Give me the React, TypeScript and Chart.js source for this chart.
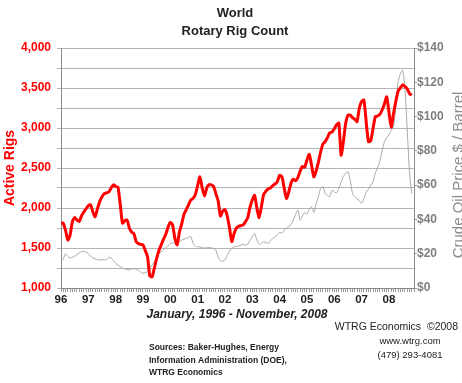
import React, { useEffect, useRef } from "react";
import { Chart, registerables } from "chart.js";

Chart.register(...registerables);

// Monthly data, January 1996 - November 2008
const rigCount: number[] = [
  1810, 1810, 1720, 1600, 1660, 1830, 1880, 1850, 1830, 1900, 1950, 1990, // 1996
  2030, 2040, 1950, 1890, 1990, 2080, 2140, 2180, 2190, 2200, 2250, 2290, // 1997
  2270, 2260, 2050, 1810, 1840, 1850, 1750, 1700, 1680, 1580, 1555, 1545, // 1998
  1540, 1470, 1390, 1150, 1140, 1250, 1370, 1470, 1540, 1610, 1670, 1760, // 1999
  1820, 1790, 1620, 1540, 1700, 1800, 1920, 1980, 2040, 2100, 2120, 2170, // 2000
  2280, 2390, 2250, 2150, 2250, 2290, 2290, 2270, 2180, 2090, 1900, 1960, // 2001
  1980, 1900, 1750, 1580, 1680, 1750, 1770, 1780, 1790, 1830, 1880, 2010, // 2002
  2100, 2160, 2000, 1880, 2020, 2170, 2210, 2240, 2250, 2280, 2300, 2330, // 2003
  2410, 2390, 2250, 2120, 2200, 2310, 2360, 2340, 2380, 2460, 2520, 2510, // 2004
  2600, 2670, 2540, 2390, 2460, 2570, 2700, 2800, 2830, 2880, 2940, 2950, // 2005
  2990, 3040, 3060, 2660, 2830, 3060, 3160, 3160, 3130, 3110, 3080, 3250, // 2006
  3330, 3350, 3080, 2830, 2840, 2990, 3140, 3150, 3170, 3225, 3300, 3390, // 2007
  3200, 3010, 3180, 3330, 3460, 3500, 3540, 3520, 3490, 3430, 3410,       // 2008
];

const oilPrice: number[] = [
  15.5, 17, 20, 18.5, 17.5, 18, 18.5, 19.5, 20.5, 21.2, 21.5, 21, // 1996
  20, 18.5, 17.5, 17, 16.5, 16.3, 16.5, 16.5, 16.5, 18, 17.5, 16, // 1997
  14.5, 13.5, 12.5, 11.5, 11.2, 10.8, 10.5, 11, 11.3, 11, 10.3, 9.3, // 1998
  8.6, 9, 9.5, 11.5, 13.5, 15.5, 17.5, 20, 21, 22.5, 23.5, 24.5, // 1999
  26, 26.5, 26, 26, 27, 28, 28.5, 29, 29.5, 30, 26, 24.5, // 2000
  24, 24, 23.5, 23.3, 23.5, 23.5, 23.5, 23, 22.2, 18, 16, 15.5, // 2001
  16.5, 19, 21.5, 23, 24, 24.3, 24.5, 25, 25.5, 25, 25.5, 28, // 2002
  30, 31.9, 28, 25.5, 26, 27, 26.5, 26, 27.5, 29, 30, 31, // 2003
  32.5, 32, 33.5, 35, 35.8, 37, 39.5, 43, 45.5, 39.7, 42, 44, // 2004
  43, 46, 47.4, 44, 49, 53.3, 58, 59.1, 55, 54, 53.3, 57, // 2005
  56, 55.5, 58, 62, 65, 67, 67.8, 63, 55, 53.3, 52, 51, // 2006
  49.4, 52, 56, 57.6, 60, 62, 67, 70, 74, 80, 85.3, 87.5, // 2007
  89.3, 92, 94, 105, 120, 125, 127, 117, 93, 68, 55, // 2008
];

const yearLabels: string[] = ["96", "97", "98", "99", "00", "01", "02", "03", "04", "05", "06", "07", "08"];

const FONT = "'Liberation Sans', Arial, Helvetica, sans-serif";

const textPlugin = {
  id: "textPlugin",
  afterDraw(chart: any) {
    const ctx = chart.ctx as CanvasRenderingContext2D;
    ctx.save();
    ctx.textAlign = "center";
    ctx.textBaseline = "middle";
    ctx.fillStyle = "#222222";
    ctx.font = `bold 13px ${FONT}`;
    ctx.fillText("World", 235, 13);
    ctx.fillText("Rotary Rig Count", 235, 31);

    // axis titles
    ctx.save();
    ctx.translate(10, 168);
    ctx.rotate(-Math.PI / 2);
    ctx.fillStyle = "#ff0000";
    ctx.font = `bold 14px ${FONT}`;
    ctx.fillText("Active Rigs", 0, 0);
    ctx.restore();

    ctx.save();
    ctx.translate(459, 175);
    ctx.rotate(-Math.PI / 2);
    ctx.fillStyle = "#8c8c8c";
    ctx.font = `15px ${FONT}`;
    ctx.fillText("Crude Oil Price $ / Barrel", 0, 0);
    ctx.restore();

    ctx.fillStyle = "#222222";
    ctx.font = `italic bold 12px ${FONT}`;
    ctx.fillText("January, 1996 - November, 2008", 237, 315);

    ctx.font = `10.5px ${FONT}`;
    ctx.textAlign = "right";
    ctx.fillText("WTRG Economics  \u00a92008", 458, 327);
    ctx.textAlign = "center";
    ctx.font = `9.5px ${FONT}`;
    ctx.fillText("www.wtrg.com", 410, 341);
    ctx.fillText("(479) 293-4081", 410, 355);

    ctx.textAlign = "left";
    ctx.font = `bold 8.5px ${FONT}`;
    ctx.fillText("Sources: Baker-Hughes, Energy", 149, 348);
    ctx.fillText("Information Administration (DOE),", 149, 361);
    ctx.fillText("WTRG Economics", 149, 373);
    ctx.restore();
  },
};

export default function App() {
  const ref = useRef<HTMLCanvasElement | null>(null);

  useEffect(() => {
    if (!ref.current) return;
    const chart = new Chart(ref.current, {
      type: "line",
      data: {
        datasets: [
          {
            label: "Active Rigs",
            data: rigCount.map((v, i) => ({ x: i, y: v })),
            borderColor: "#ff0000",
            borderWidth: 3,
            pointRadius: 0,
            tension: 0.2,
            yAxisID: "y",
          },
          {
            label: "Crude Oil Price",
            data: oilPrice.map((v, i) => ({ x: i, y: v })),
            borderColor: "#a8a8a8",
            borderWidth: 1,
            pointRadius: 0,
            tension: 0.2,
            yAxisID: "y1",
          },
        ],
      },
      options: {
        responsive: false,
        animation: false,
        layout: { padding: { top: 48, bottom: 75, left: 0, right: 0 } },
        plugins: { legend: { display: false }, title: { display: false }, tooltip: { enabled: false } },
        scales: {
          x: {
            type: "linear",
            min: 0,
            max: 155,
            position: "bottom",
            grid: { drawOnChartArea: false, drawTicks: true, tickLength: 4, color: "#9a9a9a" },
            border: { color: "#8a8a8a" },
            ticks: {
              stepSize: 1,
              autoSkip: false,
              maxRotation: 0,
              padding: 1,
              color: "#222222",
              font: { family: FONT, size: 11.5, weight: "bold" },
              callback: (v: any) => (Number(v) % 12 === 0 ? yearLabels[Number(v) / 12] ?? "" : ""),
            },
            afterFit: (s: any) => {
              s.height = 20;
            },
          },
          y: {
            type: "linear",
            position: "left",
            min: 1000,
            max: 4000,
            grid: { color: "#b4b4b4", lineWidth: 1, tickLength: 4 },
            border: { color: "#8a8a8a" },
            ticks: {
              stepSize: 250,
              padding: 6,
              color: "#ff0000",
              font: { family: FONT, size: 12, weight: "bold" },
              callback: (v: any) => (Number(v) % 500 === 0 ? Number(v).toLocaleString("en-US") : ""),
            },
            afterFit: (s: any) => {
              s.width = 61;
            },
          },
          y1: {
            type: "linear",
            position: "right",
            min: 0,
            max: 140,
            grid: { drawOnChartArea: false, tickLength: 3, color: "#9a9a9a" },
            border: { color: "#8a8a8a" },
            ticks: {
              stepSize: 20,
              padding: 0,
              color: "#7f7f7f",
              font: { family: FONT, size: 12, weight: "bold" },
              callback: (v: any) => "$" + v,
            },
            afterFit: (s: any) => {
              s.width = 48;
            },
          },
        },
      },
      plugins: [textPlugin],
    });
    return () => chart.destroy();
  }, []);

  return (
    <div style={{ position: "fixed", left: 0, top: 0, width: 462, height: 383, background: "#ffffff" }}>
      <canvas ref={ref} width={462} height={383} style={{ width: 462, height: 383, display: "block" }} />
    </div>
  );
}
